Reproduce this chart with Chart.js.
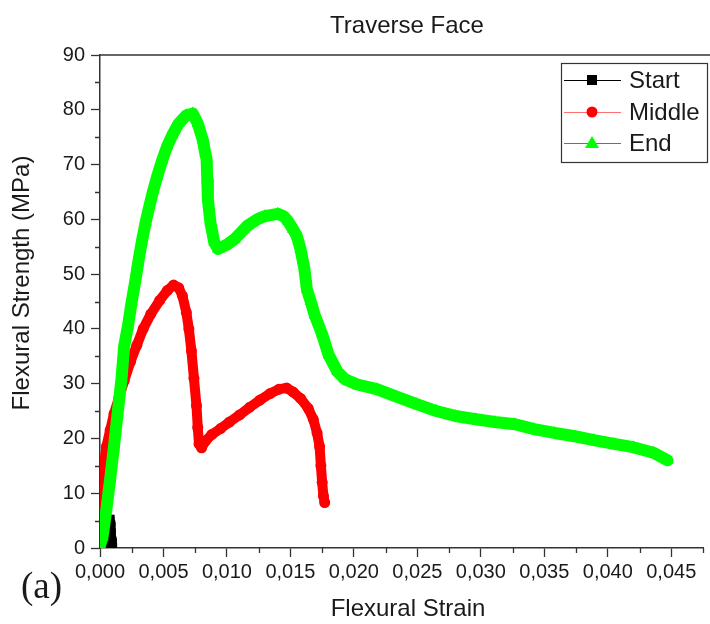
<!DOCTYPE html>
<html>
<head>
<meta charset="utf-8">
<script src="https://cdn.jsdelivr.net/npm/chart.js@4/dist/chart.umd.min.js"></script>
<style>
  html, body { margin: 0; padding: 0; background: #ffffff; }
  #wrap { width: 710px; height: 624px; }
</style>
</head>
<body>
<div id="wrap"><canvas id="chart" width="710" height="624"></canvas></div>
<script>
// Flexural strain / strength curves, traverse face specimens
const startStrain = [0.0006, 0.0008, 0.0009, 0.00095, 0.0010, 0.00105, 0.0011];
const startStrength = [0.0, 3.5, 5.5, 4.5, 3.0, 1.5, 0.3];

const middleStrain = [0.0000, 0.0001, 0.0003, 0.0005, 0.0008, 0.0011, 0.0015, 0.0019, 0.0024, 0.0029,
  0.0034, 0.0040, 0.0047, 0.0053, 0.0058, 0.0062, 0.0065, 0.0068, 0.0070, 0.0072,
  0.0074, 0.0076, 0.0077, 0.0078, 0.0080, 0.0083, 0.0088, 0.0095, 0.0102, 0.0110,
  0.0118, 0.0126, 0.0134, 0.0141, 0.0147, 0.0152, 0.0158, 0.0164, 0.0168, 0.0171,
  0.0173, 0.0174, 0.0175, 0.0176, 0.0177];
const middleStrength = [6.0, 10.0, 15.0, 18.5, 21.5, 24.5, 27.5, 30.5, 34.0, 37.0,
  40.0, 42.7, 45.2, 47.0, 48.0, 47.5, 46.0, 43.0, 40.0, 36.0,
  31.0, 26.0, 22.0, 19.0, 18.3, 19.5, 20.7, 21.8, 23.0, 24.3,
  25.7, 27.0, 28.2, 29.0, 29.2, 28.5, 27.3, 25.5, 23.5, 21.0,
  18.5, 15.0, 12.0, 9.5, 8.3];

const endStrain = [0.0000, 0.0002, 0.0005, 0.0008, 0.0011, 0.0014, 0.0017, 0.0019, 0.0022, 0.0025,
  0.0028, 0.0030, 0.0033, 0.0036, 0.0039, 0.0042, 0.0045, 0.0049, 0.0053, 0.0057,
  0.0062, 0.0068, 0.0073, 0.0077, 0.0081, 0.0083, 0.0084, 0.00845, 0.0085, 0.0087,
  0.0090, 0.0093, 0.0100, 0.0106, 0.0116, 0.0124, 0.0130, 0.0140, 0.0145, 0.0148,
  0.0152, 0.0155, 0.0158, 0.0161, 0.0163, 0.0166, 0.0169, 0.0175, 0.0180, 0.0187,
  0.0193, 0.0202, 0.0218, 0.0233, 0.0249, 0.0265, 0.0280, 0.0296, 0.0311, 0.0327,
  0.0342, 0.0358, 0.0374, 0.0389, 0.0405, 0.0420, 0.0436, 0.0447];
const endStrength = [0.5, 2.0, 7.0, 12.6, 18.5, 24.8, 31.0, 36.8, 40.5, 45.0,
  49.0, 52.0, 56.0, 59.5, 62.5, 65.3, 67.8, 70.8, 73.4, 75.4,
  77.5, 79.0, 79.3, 77.5, 74.5, 72.0, 70.9, 67.2, 63.6, 59.4,
  55.8, 54.6, 55.4, 56.4, 58.8, 60.0, 60.6, 61.0, 60.5, 59.7,
  58.2, 57.0, 54.5, 51.0, 47.2, 45.0, 42.6, 39.0, 35.3, 32.2,
  30.8, 29.9, 29.0, 27.7, 26.3, 25.0, 24.1, 23.5, 23.0, 22.6,
  21.7, 21.0, 20.4, 19.7, 19.0, 18.4, 17.4, 16.0];

const seriesNames = ['Start', 'Middle', 'End'];
const xTitle = 'Flexural Strain';
const yTitle = 'Flexural Strength (MPa)';
const chartTitle = 'Traverse Face';
const panelTag = '(a)';

const pairs = (xs, ys) => xs.map((x, i) => ({ x: x, y: ys[i] }));

const INK = '#1a1a1a';
const SANS = '"Liberation Sans", Arial, sans-serif';

// legend entries: line colour, marker style, marker colour
const legendItems = [
  { text: seriesNames[0], line: '#000000', style: 'rect', fill: '#000000' },
  { text: seriesNames[1], line: '#ff7070', style: 'circle', fill: '#ff0000' },
  { text: seriesNames[2], line: '#3a78e0', style: 'triangle', fill: '#00ff00' }
];

const decorations = {
  id: 'decorations',
  afterDraw(chart) {
    const ctx = chart.ctx;
    const area = chart.chartArea;
    const xs = chart.scales.x, ys = chart.scales.y;
    ctx.save();

    // frame top line
    ctx.strokeStyle = '#333333';
    ctx.lineWidth = 1.5;
    ctx.beginPath();
    ctx.moveTo(area.left, area.top);
    ctx.lineTo(chart.width, area.top);
    ctx.stroke();

    // minor ticks
    ctx.lineWidth = 1.3;
    ctx.beginPath();
    for (let v = 5; v < 90; v += 10) {
      const py = Math.round(ys.getPixelForValue(v)) + 0.5;
      ctx.moveTo(area.left, py);
      ctx.lineTo(area.left - 5, py);
    }
    for (let k = 1; k <= 19; k += 2) {
      const px = Math.round(xs.getPixelForValue(k * 0.0025)) + 0.5;
      ctx.moveTo(px, area.bottom);
      ctx.lineTo(px, area.bottom + 5);
    }
    ctx.stroke();

    // titles
    ctx.fillStyle = INK;
    ctx.textAlign = 'center';
    ctx.textBaseline = 'middle';
    ctx.font = '24px ' + SANS;
    ctx.fillText(chartTitle, 407, 26);
    ctx.fillText(xTitle, 408, 609);
    ctx.save();
    ctx.translate(22, 283);
    ctx.rotate(-Math.PI / 2);
    ctx.fillText(yTitle, 0, 0);
    ctx.restore();

    // panel tag
    ctx.textAlign = 'left';
    ctx.textBaseline = 'alphabetic';
    ctx.font = '37px "Liberation Serif", "Times New Roman", serif';
    ctx.fillText(panelTag, 21, 598);

    // legend box
    const bx = 561, by = 63, bw = 146, bh = 99;
    ctx.fillStyle = '#ffffff';
    ctx.fillRect(bx, by, bw, bh);
    ctx.strokeStyle = '#333333';
    ctx.lineWidth = 1.2;
    ctx.strokeRect(bx + 0.5, by + 0.5, bw, bh);
    const rowY = [80, 112, 143];
    legendItems.forEach((it, i) => {
      const y = rowY[i];
      ctx.strokeStyle = it.line;
      ctx.lineWidth = 1.2;
      ctx.beginPath();
      ctx.moveTo(564, y + 0.5);
      ctx.lineTo(621, y + 0.5);
      ctx.stroke();
      ctx.fillStyle = it.fill;
      const cx = 592;
      if (it.style === 'rect') {
        ctx.fillRect(cx - 5, y - 5, 10, 10);
      } else if (it.style === 'circle') {
        ctx.beginPath();
        ctx.arc(cx, y, 5.5, 0, Math.PI * 2);
        ctx.fill();
      } else {
        ctx.beginPath();
        ctx.moveTo(cx, y - 7);
        ctx.lineTo(cx + 7, y + 5);
        ctx.lineTo(cx - 7, y + 5);
        ctx.closePath();
        ctx.fill();
      }
      ctx.fillStyle = INK;
      ctx.font = '24px ' + SANS;
      ctx.textBaseline = 'middle';
      ctx.fillText(it.text, 629, y + 1);
    });
    ctx.restore();
  }
};

new Chart(document.getElementById('chart'), {
  type: 'scatter',
  data: {
    datasets: [
      {
        label: seriesNames[0],
        data: pairs(startStrain, startStrength),
        showLine: true,
        borderColor: '#000000',
        borderWidth: 6,
        backgroundColor: '#000000',
        pointStyle: 'rect',
        pointRadius: 4.5,
        pointBorderWidth: 0,
        borderJoinStyle: 'round',
        borderCapStyle: 'round',
        order: 3
      },
      {
        label: seriesNames[1],
        data: pairs(middleStrain, middleStrength),
        showLine: true,
        borderColor: '#ff0000',
        borderWidth: 10,
        backgroundColor: '#ff0000',
        pointStyle: 'circle',
        pointRadius: 5.5,
        pointBorderWidth: 0,
        borderJoinStyle: 'round',
        borderCapStyle: 'round',
        order: 2
      },
      {
        label: seriesNames[2],
        data: pairs(endStrain, endStrength),
        showLine: true,
        borderColor: '#00ff00',
        borderWidth: 12,
        backgroundColor: '#00ff00',
        pointStyle: 'triangle',
        pointRadius: 7,
        pointBorderWidth: 0,
        borderJoinStyle: 'round',
        borderCapStyle: 'round',
        order: 1
      }
    ]
  },
  options: {
    responsive: false,
    animation: false,
    devicePixelRatio: 1,
    layout: { padding: { left: 0, top: 55, right: 1, bottom: 0 } },
    plugins: {
      legend: { display: false },
      title: { display: false },
      tooltip: { enabled: false }
    },
    scales: {
      x: {
        type: 'linear',
        min: 0,
        max: 0.0475,
        afterFit: (s) => { s.height = 76; },
        border: { display: true, color: '#333333', width: 1.5 },
        grid: { drawOnChartArea: false, drawTicks: true, tickLength: 9, tickColor: '#333333', tickWidth: 1.3 },
        ticks: {
          stepSize: 0.005,
          includeBounds: false,
          maxRotation: 0,
          autoSkip: false,
          padding: 3,
          color: INK,
          font: { family: SANS, size: 20 },
          callback: (v) => {
            const k = Math.round(v / 0.005);
            if (Math.abs(v - k * 0.005) > 1e-9) return '';
            return (k * 0.005).toFixed(3).replace('.', ',');
          }
        }
      },
      y: {
        type: 'linear',
        min: 0,
        max: 90,
        afterFit: (s) => { s.width = 100; },
        border: { display: true, color: '#333333', width: 1.5 },
        grid: { drawOnChartArea: false, drawTicks: true, tickLength: 9, tickColor: '#333333', tickWidth: 1.3 },
        ticks: {
          stepSize: 10,
          padding: 6,
          color: INK,
          font: { family: SANS, size: 20 }
        }
      }
    }
  },
  plugins: [decorations]
});
</script>
</body>
</html>
